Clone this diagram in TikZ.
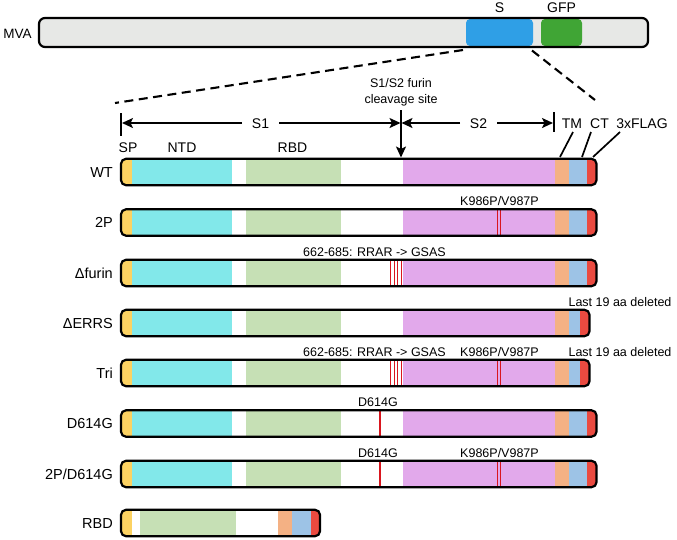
\documentclass[tikz,border=0pt]{standalone}
\usepackage{fontspec}
\setmainfont{Liberation Sans}
\usetikzlibrary{arrows.meta}
\definecolor{mvagray}{HTML}{E7E8E6}
\definecolor{sblue}{HTML}{2F9FE6}
\definecolor{gfpgreen}{HTML}{40A535}
\definecolor{spy}{HTML}{FCD262}
\definecolor{ntdc}{HTML}{82E8EA}
\definecolor{rbdg}{HTML}{C6E0B5}
\definecolor{stwop}{HTML}{E2A9EB}
\definecolor{tmo}{HTML}{F4B184}
\definecolor{ctb}{HTML}{9DC3E6}
\definecolor{flagr}{HTML}{EA4A40}
\definecolor{mutred}{HTML}{D9161E}
% full-length construct: #1 = y centre, #2 = extra drawing (mutations)
\newcommand\fullbar[2]{%
  \begin{scope}
    \clip[rounded corners=5pt] (121,#1-13.2) rectangle (596.5,#1+13.2);
    \fill[white] (121,#1-13.2) rectangle (596.5,#1+13.2);
    \fill[spy]   (121,#1-13.2) rectangle (132,#1+13.2);
    \fill[ntdc]  (132,#1-13.2) rectangle (232,#1+13.2);
    \fill[rbdg]  (246,#1-13.2) rectangle (341,#1+13.2);
    \fill[stwop] (403,#1-13.2) rectangle (555,#1+13.2);
    \fill[tmo]   (555,#1-13.2) rectangle (569,#1+13.2);
    \fill[ctb]   (569,#1-13.2) rectangle (587,#1+13.2);
    \fill[flagr] (587,#1-13.2) rectangle (597,#1+13.2);
    #2
  \end{scope}
  \draw[outline] (121,#1-13.2) rectangle (596.5,#1+13.2);
}
% construct lacking the last 19 aa
\newcommand\shortbar[2]{%
  \begin{scope}
    \clip[rounded corners=5pt] (121,#1-13.2) rectangle (589.5,#1+13.2);
    \fill[white] (121,#1-13.2) rectangle (589.5,#1+13.2);
    \fill[spy]   (121,#1-13.2) rectangle (132,#1+13.2);
    \fill[ntdc]  (132,#1-13.2) rectangle (232,#1+13.2);
    \fill[rbdg]  (246,#1-13.2) rectangle (341,#1+13.2);
    \fill[stwop] (403,#1-13.2) rectangle (555,#1+13.2);
    \fill[tmo]   (555,#1-13.2) rectangle (569,#1+13.2);
    \fill[ctb]   (569,#1-13.2) rectangle (580,#1+13.2);
    \fill[flagr] (580,#1-13.2) rectangle (590,#1+13.2);
    #2
  \end{scope}
  \draw[outline] (121,#1-13.2) rectangle (589.5,#1+13.2);
}
\newcommand\kpmut[1]{%
  \draw[mut] (497.5,#1-14) -- (497.5,#1+14);
  \draw[mut] (500.7,#1-14) -- (500.7,#1+14);}
\newcommand\furinmut[1]{%
  \foreach \xx in {390.6,394.2,397.8,401.4}{\draw[mut] (\xx,#1-14) -- (\xx,#1+14);}}
\newcommand\dgmut[1]{%
  \draw[mut, line width=1.7pt] (380,#1-14) -- (380,#1+14);}
\begin{document}
\begin{tikzpicture}[x=1pt,y=-1pt,
  hdr/.style={font=\fontsize{14}{16}\selectfont, inner sep=0pt, anchor=base},
  rowlab/.style={font=\fontsize{14.5}{17}\selectfont, inner sep=0pt, anchor=base east},
  ann/.style={font=\fontsize{12.5}{15}\selectfont, inner sep=0pt, anchor=base},
  outline/.style={draw=black, line width=2.2pt, rounded corners=5pt},
  mut/.style={draw=mutred, line width=1.3pt},
  dimarrow/.style={line width=1.9pt, -{Stealth[length=11pt,width=10pt,inset=2.5pt]}},
  tickline/.style={line width=1.9pt},
  dashline/.style={line width=2.1pt, dash pattern=on 9pt off 5.5pt},
  leader/.style={line width=1.7pt}]
\useasboundingbox (0,0) rectangle (677,539);

% ---- MVA genome ----
\node[font=\fontsize{13.5}{16}\selectfont, inner sep=0pt, anchor=base] (mva) at (17.5,38) {MVA};
\fill[mvagray, rounded corners=6pt] (39,18) rectangle (648,47);
\fill[sblue, rounded corners=4pt] (466,19) rectangle (533,46);
\fill[gfpgreen, rounded corners=4pt] (541,19) rectangle (582,46);
\draw[outline, rounded corners=6pt] (39,18) rectangle (648,47);
\node[hdr] (lblS) at (499.5,12) {S};
\node[hdr] (lblGFP) at (561.5,12) {GFP};

% ---- zoom dashed lines ----
\coordinate (sleft) at (463,50);
\coordinate (sright) at (532,50.5);
\coordinate (zleft) at (115,103);
\coordinate (zright) at (595,100);
\draw[dashline] (sleft) -- (zleft);
\draw[dashline] (sright) -- (zright);

% ---- domain header ----
\node[ann] (furin1) at (401,87.5) {S1/S2 furin};
\node[ann] (furin2) at (401,103) {cleavage site};
\coordinate (tickL) at (122,123);
\coordinate (cleave) at (401,123);
\coordinate (tickR) at (554,123);
\draw[tickline] (121,113) -- (121,136);
\draw[tickline] (554,112) -- (554,132);
\node[hdr] (s1) at (260.5,128) {S1};
\node[hdr] (s2) at (478.5,128) {S2};
\draw[dimarrow] (242,123) -- (tickL);
\draw[dimarrow] (279,123) -- (400.5,123);
\draw[dimarrow] (460,123) -- (401.5,123);
\draw[dimarrow] (497,123) -- (553,123);
\coordinate (cleavetop) at (401,110);
\coordinate (cleavebot) at (401,157.5);
\draw[dimarrow] (cleavetop) -- (cleavebot);

\node[hdr] (tm) at (572,128) {TM};
\node[hdr] (ct) at (599.5,128) {CT};
\node[hdr] (flag) at (642,128) {3xFLAG};
\coordinate (tmA) at (573,132);   \coordinate (tmB) at (560,157);
\coordinate (ctA) at (591,132);   \coordinate (ctB) at (582,157);
\coordinate (flA) at (620,132);   \coordinate (flB) at (593,157);
\draw[leader] (tmA) -- (tmB);
\draw[leader] (ctA) -- (ctB);
\draw[leader] (flA) -- (flB);

\node[hdr] (sp) at (128,152) {SP};
\node[hdr] (ntd) at (182,152) {NTD};
\node[hdr] (rbdlbl) at (292.5,152) {RBD};

% ---- constructs ----
\fullbar{172}{}
\node[rowlab] (wt) at (113,177.2) {WT};

\fullbar{222.5}{\kpmut{222.5}}
\node[rowlab] (twop) at (113,227.7) {2P};
\node[ann] (twopA) at (499.5,205.5) {K986P/V987P};

\fullbar{273}{\furinmut{273}}
\node[rowlab] (dfurin) at (113,278.2) {Δfurin};
\node[ann] (dfurinA) at (374.5,256) {662-685: RRAR -> GSAS};

\shortbar{323}{}
\node[rowlab] (derrs) at (113,328.2) {ΔERRS};
\node[ann] (derrsA) at (620,306) {Last 19 aa deleted};

\shortbar{373}{\furinmut{373}\kpmut{373}}
\node[rowlab] (tri) at (113,378.2) {Tri};
\node[ann] (triA) at (374.5,356) {662-685: RRAR -> GSAS};
\node[ann] (triB) at (499.5,356) {K986P/V987P};
\node[ann] (triC) at (620,356) {Last 19 aa deleted};

\fullbar{423.5}{\dgmut{423.5}}
\node[rowlab] (dg) at (113,428.7) {D614G};
\node[ann] (dgA) at (378,406.5) {D614G};

\fullbar{474}{\dgmut{474}\kpmut{474}}
\node[rowlab] (twopdg) at (113,479.2) {2P/D614G};
\node[ann] (twopdgA) at (378,457) {D614G};
\node[ann] (twopdgB) at (499.5,457) {K986P/V987P};

% RBD construct
\begin{scope}
  \clip[rounded corners=5pt] (121,523-13.2) rectangle (320,523+13.2);
  \fill[white] (121,523-13.2) rectangle (320,523+13.2);
  \fill[spy]   (121,523-13.2) rectangle (132,523+13.2);
  \fill[rbdg]  (140,523-13.2) rectangle (236,523+13.2);
  \fill[tmo]   (278,523-13.2) rectangle (292,523+13.2);
  \fill[ctb]   (292,523-13.2) rectangle (311,523+13.2);
  \fill[flagr] (311,523-13.2) rectangle (321,523+13.2);
\end{scope}
\draw[outline] (121,523-13.2) rectangle (320,523+13.2);
\node[rowlab] (rbdrow) at (113,528.2) {RBD};
\end{tikzpicture}
\end{document}
